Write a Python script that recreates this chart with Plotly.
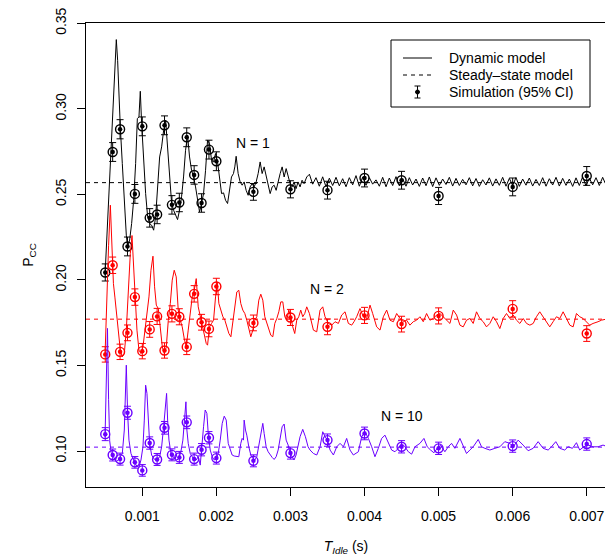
import plotly.graph_objects as go

# ---------------- data (time in ms for the dynamic model, seconds for simulation) ----------------
sim_t = [0.0005, 0.0006, 0.0007, 0.0008, 0.0009, 0.0010, 0.0011, 0.0012, 0.0013, 0.0014,
         0.0015, 0.0016, 0.0017, 0.0018, 0.0019, 0.0020, 0.0025, 0.0030, 0.0035, 0.0040,
         0.0045, 0.0050, 0.0060, 0.0070]

sim_n1 = [0.2044, 0.2748, 0.2881, 0.2196, 0.2503, 0.2898, 0.2363, 0.2383, 0.2904, 0.2439,
          0.2453, 0.2834, 0.2614, 0.2450, 0.2762, 0.2694, 0.2515, 0.2530, 0.2525, 0.2596,
          0.2583, 0.2491, 0.2544, 0.2608]
err_n1 = [0.0050, 0.0055, 0.0056, 0.0055, 0.0055, 0.0055, 0.0054, 0.0054, 0.0055, 0.0054,
          0.0054, 0.0055, 0.0054, 0.0054, 0.0055, 0.0055, 0.0049, 0.0050, 0.0052, 0.0052,
          0.0052, 0.0050, 0.0052, 0.0055]

sim_n2 = [0.1565, 0.2086, 0.1580, 0.1691, 0.1900, 0.1584, 0.1711, 0.1787, 0.1588, 0.1802,
          0.1785, 0.1609, 0.1919, 0.1753, 0.1714, 0.1962, 0.1749, 0.1781, 0.1726, 0.1793,
          0.1742, 0.1790, 0.1831, 0.1687]
err_n2 = [0.0045, 0.0048, 0.0045, 0.0046, 0.0048, 0.0045, 0.0046, 0.0047, 0.0045, 0.0047,
          0.0047, 0.0045, 0.0048, 0.0046, 0.0046, 0.0048, 0.0046, 0.0047, 0.0046, 0.0047,
          0.0046, 0.0047, 0.0048, 0.0046]

sim_n10 = [0.1099, 0.0977, 0.0953, 0.1224, 0.0934, 0.0887, 0.1047, 0.0951, 0.1136, 0.0978,
           0.0963, 0.1168, 0.0953, 0.1008, 0.1078, 0.0959, 0.0943, 0.0988, 0.1064, 0.1103,
           0.1025, 0.1016, 0.1029, 0.1041]
err_n10 = [0.0038, 0.0035, 0.0035, 0.0038, 0.0034, 0.0034, 0.0036, 0.0035, 0.0037, 0.0035,
           0.0035, 0.0037, 0.0035, 0.0036, 0.0036, 0.0035, 0.0035, 0.0035, 0.0036, 0.0037,
           0.0036, 0.0036, 0.0036, 0.0036]

steady = {"N = 1": 0.2569, "N = 2": 0.1771, "N = 10": 0.1023}

dyn1_t = [0.497, 0.524, 0.551, 0.578, 0.604, 0.631, 0.649, 0.667, 0.685, 0.703, 0.730, 0.757,
          0.784, 0.802, 0.829, 0.856, 0.883, 0.910, 0.933, 0.955, 0.973, 0.991, 1.018, 1.045,
          1.072, 1.099, 1.126, 1.153, 1.180, 1.207, 1.234, 1.261, 1.288, 1.315, 1.342, 1.369,
          1.396, 1.422, 1.449, 1.476, 1.503, 1.530, 1.557, 1.584, 1.611, 1.638, 1.665, 1.692,
          1.719, 1.746, 1.773, 1.800, 1.827, 1.854, 1.881, 1.908, 1.935, 1.962, 1.989, 2.016,
          2.043, 2.070, 2.097, 2.124, 2.151, 2.178, 2.204, 2.231, 2.249, 2.267, 2.294, 2.321,
          2.348, 2.375, 2.402, 2.429, 2.456, 2.483, 2.510, 2.537, 2.564, 2.591, 2.618, 2.645,
          2.672, 2.699, 2.726, 2.753, 2.780, 2.807, 2.834, 2.861, 2.888, 2.915, 2.942, 2.969,
          2.996, 3.022, 3.049, 3.076, 3.103, 3.130, 3.157, 3.184, 3.220, 3.256,
          3.300, 3.345, 3.390, 3.435, 3.480, 3.525, 3.570, 3.615, 3.660, 3.705, 3.750, 3.795,
          3.840, 3.885, 3.930, 3.975, 4.020, 4.065, 4.110, 4.155, 4.200, 4.245, 4.290, 4.335,
          4.380, 4.425, 4.470, 4.515, 4.560, 4.605, 4.650, 4.695, 4.740, 4.785, 4.830, 4.875,
          4.920, 4.965, 5.010, 5.055, 5.100, 5.145, 5.190, 5.235, 5.280, 5.325, 5.370, 5.415,
          5.460, 5.505, 5.550, 5.595, 5.640, 5.685, 5.730, 5.775, 5.820, 5.865, 5.910, 5.955,
          6.000, 6.045, 6.090, 6.135, 6.180, 6.225, 6.270, 6.315, 6.360, 6.405, 6.450, 6.495,
          6.540, 6.585, 6.630, 6.675, 6.720, 6.765, 6.810, 6.855, 6.900, 6.945, 6.990, 7.035,
          7.080, 7.125, 7.170, 7.215, 7.250]
dyn1_v = [0.2028, 0.2271, 0.2544, 0.2778, 0.3031, 0.3284, 0.3405, 0.3284, 0.3070, 0.2894, 0.2680, 0.2447,
          0.2262, 0.2194, 0.2233, 0.2330, 0.2466, 0.2680, 0.2943, 0.2953, 0.3103, 0.2914, 0.2700, 0.2505,
          0.2369, 0.2330, 0.2320, 0.2291, 0.2369, 0.2524, 0.2719, 0.2778, 0.2875, 0.2933, 0.2778, 0.2583,
          0.2447, 0.2408, 0.2378, 0.2353, 0.2408, 0.2486, 0.2602, 0.2758, 0.2846, 0.2719, 0.2641, 0.2602,
          0.2544, 0.2466, 0.2398, 0.2447, 0.2505, 0.2641, 0.2817, 0.2797, 0.2700, 0.2690, 0.2739, 0.2690,
          0.2602, 0.2505, 0.2509, 0.2466, 0.2447, 0.2544, 0.2602, 0.2622, 0.2661, 0.2723, 0.2622, 0.2573,
          0.2554, 0.2573, 0.2524, 0.2495, 0.2544, 0.2563, 0.2544, 0.2573, 0.2622, 0.2690, 0.2622, 0.2661,
          0.2602, 0.2544, 0.2505, 0.2544, 0.2554, 0.2524, 0.2583, 0.2622, 0.2661, 0.2602, 0.2651, 0.2602,
          0.2563, 0.2544, 0.2573, 0.2534, 0.2573, 0.2544, 0.2583, 0.2563, 0.2602, 0.2618,
          0.2560, 0.2598, 0.2548, 0.2603, 0.2545, 0.2595, 0.2552, 0.2600, 0.2550, 0.2592, 0.2545, 0.2598,
          0.2556, 0.2610, 0.2548, 0.2602, 0.2553, 0.2598, 0.2560, 0.2585, 0.2548, 0.2600, 0.2545, 0.2596,
          0.2552, 0.2604, 0.2550, 0.2592, 0.2548, 0.2598, 0.2555, 0.2590, 0.2547, 0.2596, 0.2551, 0.2602,
          0.2546, 0.2597, 0.2553, 0.2590, 0.2558, 0.2600, 0.2549, 0.2594, 0.2552, 0.2588, 0.2556, 0.2598,
          0.2550, 0.2593, 0.2547, 0.2586, 0.2555, 0.2597, 0.2549, 0.2591, 0.2553, 0.2600, 0.2548, 0.2594,
          0.2552, 0.2599, 0.2547, 0.2590, 0.2554, 0.2596, 0.2549, 0.2588, 0.2552, 0.2598, 0.2548, 0.2592,
          0.2555, 0.2600, 0.2549, 0.2594, 0.2553, 0.2590, 0.2547, 0.2597, 0.2552, 0.2603, 0.2550, 0.2595,
          0.2556, 0.2598, 0.2552, 0.2600, 0.2565]

dyn2_t = [0.497, 0.520, 0.545, 0.569, 0.590, 0.610, 0.630, 0.655, 0.680, 0.703, 0.730, 0.757,
          0.784, 0.811, 0.838, 0.861, 0.883, 0.906, 0.928, 0.955, 0.982, 1.009, 1.036, 1.063,
          1.090, 1.117, 1.144, 1.166, 1.189, 1.216, 1.243, 1.270, 1.297, 1.324, 1.351, 1.378,
          1.404, 1.431, 1.458, 1.485, 1.512, 1.539, 1.566, 1.593, 1.620, 1.647, 1.674, 1.701,
          1.728, 1.755, 1.782, 1.809, 1.836, 1.863, 1.881, 1.908, 1.935, 1.962, 1.989, 2.011,
          2.034, 2.061, 2.088, 2.115, 2.142, 2.169, 2.196, 2.222, 2.249, 2.276, 2.303, 2.330,
          2.357, 2.384, 2.411, 2.438, 2.465, 2.492, 2.519, 2.546, 2.573, 2.600, 2.627, 2.654,
          2.681, 2.708, 2.735, 2.762, 2.789, 2.816, 2.843, 2.870, 2.897, 2.924, 2.951, 2.978,
          3.004, 3.031, 3.058, 3.085, 3.112, 3.139, 3.166, 3.193, 3.220, 3.256,
          3.310, 3.355, 3.400, 3.436, 3.467, 3.512, 3.557, 3.602, 3.647, 3.692, 3.737, 3.782,
          3.827, 3.858, 3.894, 3.939, 3.984, 4.029, 4.074, 4.110, 4.164, 4.209, 4.254, 4.299,
          4.344, 4.389, 4.434, 4.479, 4.524, 4.568, 4.613, 4.658, 4.703, 4.748, 4.793, 4.838,
          4.883, 4.928, 4.973, 5.018, 5.063, 5.108, 5.153, 5.198, 5.243, 5.288, 5.332, 5.377,
          5.422, 5.467, 5.512, 5.557, 5.602, 5.647, 5.692, 5.737, 5.782, 5.827, 5.872, 5.917,
          5.962, 6.007, 6.052, 6.097, 6.142, 6.187, 6.232, 6.277, 6.321, 6.366, 6.411, 6.456,
          6.501, 6.546, 6.591, 6.636, 6.681, 6.726, 6.771, 6.816, 6.861, 6.906, 6.951, 7.040,
          7.085, 7.153, 7.198, 7.250]
dyn2_v = [0.1560, 0.1900, 0.2200, 0.2437, 0.2150, 0.1980, 0.1900, 0.1780, 0.1660, 0.1590, 0.1551, 0.1570,
          0.1707, 0.1960, 0.2154, 0.2260, 0.2057, 0.1862, 0.1707, 0.1590, 0.1570, 0.1609, 0.1707, 0.1804,
          0.1901, 0.2057, 0.2139, 0.1960, 0.1853, 0.1833, 0.1707, 0.1609, 0.1570, 0.1609, 0.1765, 0.1862,
          0.1999, 0.2057, 0.2018, 0.1824, 0.1765, 0.1726, 0.1658, 0.1609, 0.1707, 0.1804, 0.1901, 0.1940,
          0.2008, 0.1843, 0.1785, 0.1746, 0.1687, 0.1629, 0.1619, 0.1726, 0.1746, 0.1765, 0.1901, 0.1989,
          0.1862, 0.1824, 0.1785, 0.1765, 0.1726, 0.1687, 0.1668, 0.1765, 0.1862, 0.1930, 0.1940, 0.1862,
          0.1824, 0.1804, 0.1765, 0.1707, 0.1668, 0.1707, 0.1765, 0.1785, 0.1882, 0.1917, 0.1882, 0.1785,
          0.1746, 0.1707, 0.1677, 0.1668, 0.1746, 0.1775, 0.1814, 0.1872, 0.1872, 0.1785, 0.1765, 0.1824,
          0.1785, 0.1726, 0.1687, 0.1765, 0.1785, 0.1824, 0.1785, 0.1804, 0.1843, 0.1804,
          0.1707, 0.1697, 0.1824, 0.1843, 0.1785, 0.1746, 0.1736, 0.1756, 0.1746, 0.1795, 0.1814, 0.1746,
          0.1736, 0.1756, 0.1785, 0.1833, 0.1785, 0.1775, 0.1853, 0.1804, 0.1726, 0.1707, 0.1785, 0.1824,
          0.1765, 0.1756, 0.1804, 0.1775, 0.1756, 0.1765, 0.1736, 0.1756, 0.1765, 0.1785, 0.1756, 0.1804,
          0.1765, 0.1775, 0.1795, 0.1804, 0.1785, 0.1765, 0.1746, 0.1824, 0.1795, 0.1736, 0.1726, 0.1765,
          0.1775, 0.1746, 0.1814, 0.1775, 0.1756, 0.1726, 0.1746, 0.1785, 0.1756, 0.1716, 0.1775, 0.1804,
          0.1775, 0.1795, 0.1765, 0.1746, 0.1775, 0.1746, 0.1736, 0.1746, 0.1785, 0.1814, 0.1785, 0.1756,
          0.1726, 0.1756, 0.1785, 0.1775, 0.1814, 0.1775, 0.1736, 0.1726, 0.1804, 0.1785, 0.1775, 0.1736,
          0.1746, 0.1756, 0.1765, 0.1770]

dyn10_t = [0.497, 0.515, 0.530, 0.545, 0.560, 0.580, 0.600, 0.622, 0.649, 0.676, 0.703, 0.730,
           0.757, 0.775, 0.784, 0.802, 0.820, 0.847, 0.874, 0.901, 0.928, 0.955, 0.982, 1.009,
           1.027, 1.045, 1.063, 1.081, 1.099, 1.126, 1.153, 1.180, 1.207, 1.234, 1.261, 1.288,
           1.315, 1.328, 1.342, 1.360, 1.387, 1.413, 1.440, 1.467, 1.494, 1.521, 1.548, 1.571,
           1.589, 1.602, 1.620, 1.647, 1.674, 1.701, 1.728, 1.755, 1.782, 1.800, 1.827, 1.849,
           1.872, 1.890, 1.917, 1.944, 1.971, 1.998, 2.025, 2.052, 2.079, 2.106, 2.133, 2.160,
           2.187, 2.213, 2.240, 2.276, 2.303, 2.330, 2.348, 2.366, 2.375, 2.393, 2.411, 2.438,
           2.465, 2.492, 2.519, 2.546, 2.573, 2.600, 2.627, 2.645, 2.672, 2.699, 2.726, 2.753,
           2.780, 2.807, 2.834, 2.861, 2.888, 2.915, 2.942, 2.969, 2.996, 3.022, 3.049, 3.076,
           3.103, 3.130, 3.166, 3.202, 3.238,
           3.265, 3.310, 3.355, 3.400, 3.436, 3.467, 3.503, 3.535, 3.580, 3.625, 3.670, 3.715,
           3.759, 3.804, 3.849, 3.917, 3.962, 4.007, 4.052, 4.097, 4.141, 4.186, 4.231, 4.276,
           4.321, 4.366, 4.411, 4.456, 4.501, 4.546, 4.591, 4.636, 4.681, 4.748, 4.802, 4.847,
           4.892, 4.937, 4.982, 5.027, 5.085, 5.130, 5.175, 5.220, 5.288, 5.332, 5.377, 5.422,
           5.467, 5.535, 5.580, 5.625, 5.692, 5.760, 5.827, 5.894, 5.962, 6.007, 6.074, 6.141,
           6.209, 6.276, 6.344, 6.411, 6.479, 6.524, 6.582, 6.636, 6.703, 6.748, 6.807, 6.861,
           6.905, 6.960, 7.018, 7.085, 7.153, 7.220, 7.250]
dyn10_v = [0.1080, 0.1400, 0.1717, 0.1300, 0.1060, 0.0990, 0.0975, 0.0957, 0.0938, 0.0948, 0.0967, 0.0986,
           0.1123, 0.1415, 0.1502, 0.1220, 0.1064, 0.0986, 0.0957, 0.0928, 0.0912, 0.0905, 0.0948, 0.1025,
           0.1181, 0.1385, 0.1337, 0.1181, 0.1045, 0.0977, 0.0957, 0.0948, 0.0951, 0.0967, 0.1025, 0.1142,
           0.1259, 0.1337, 0.1181, 0.1064, 0.0986, 0.0967, 0.0957, 0.0948, 0.0957, 0.0996, 0.1064, 0.1181,
           0.1288, 0.1123, 0.1045, 0.0986, 0.0967, 0.0948, 0.0948, 0.0967, 0.0918, 0.1025, 0.1142, 0.1240,
           0.1220, 0.1103, 0.1006, 0.0967, 0.0948, 0.0957, 0.0986, 0.1064, 0.1162, 0.1204, 0.1181, 0.1045,
           0.1006, 0.0977, 0.0971, 0.0971, 0.0967, 0.1045, 0.1074, 0.1064, 0.1181, 0.1123, 0.1093, 0.1025,
           0.0977, 0.0957, 0.0948, 0.0967, 0.1025, 0.1103, 0.1162, 0.1103, 0.1025, 0.0996, 0.0977, 0.0963,
           0.0951, 0.0967, 0.1006, 0.1084, 0.1142, 0.1158, 0.1064, 0.1035, 0.0986, 0.0967, 0.0948, 0.0977,
           0.1025, 0.1084, 0.1127, 0.1084, 0.1025,
           0.1006, 0.0986, 0.0977, 0.1025, 0.1113, 0.1084, 0.1064, 0.1006, 0.0977, 0.1025, 0.1045, 0.1025,
           0.1074, 0.1006, 0.0977, 0.0996, 0.1084, 0.1113, 0.1074, 0.1025, 0.0967, 0.1016, 0.1074, 0.1093,
           0.1045, 0.1006, 0.0996, 0.1016, 0.1045, 0.1025, 0.0996, 0.0982, 0.1025, 0.1045, 0.1074, 0.1025,
           0.1006, 0.0990, 0.1016, 0.1035, 0.0996, 0.1025, 0.1045, 0.1016, 0.1074, 0.1035, 0.0986, 0.1006,
           0.1025, 0.1068, 0.1025, 0.1016, 0.1006, 0.1016, 0.1025, 0.1055, 0.1045, 0.1025, 0.1064, 0.1035,
           0.1002, 0.1016, 0.1055, 0.1016, 0.1006, 0.1025, 0.1055, 0.1016, 0.1006, 0.1025, 0.1016, 0.1049,
           0.1006, 0.1025, 0.1035, 0.1025, 0.1025, 0.1035, 0.1030]

x_ticks = [0.001, 0.002, 0.003, 0.004, 0.005, 0.006, 0.007]
x_tick_labels = ["0.001", "0.002", "0.003", "0.004", "0.005", "0.006", "0.007"]
y_ticks = [0.10, 0.15, 0.20, 0.25, 0.30, 0.35]
y_tick_labels = ["0.10", "0.15", "0.20", "0.25", "0.30", "0.35"]

legend_labels = ["Dynamic model", "Steady\u2013state model", "Simulation (95% CI)"]

# ---------------- figure ----------------
FONT = "Liberation Sans, Arial, Helvetica, sans-serif"
BLACK = "#000000"
RED = "#FF0000"
BLUE = "#6A00FF"
X_RANGE = [0.00024, 0.00726]
Y_RANGE = [0.079, 0.3502]

series = [
    ("N = 1", dyn1_t, dyn1_v, sim_n1, err_n1, BLACK, 0.0025, 0.280),
    ("N = 2", dyn2_t, dyn2_v, sim_n2, err_n2, RED, 0.0035, 0.1945),
    ("N = 10", dyn10_t, dyn10_v, sim_n10, err_n10, BLUE, 0.0045, 0.1205),
]

fig = go.Figure()
annotations = []
for name, dt, dv, sv, se, col, lx, ly in series:
    # steady-state model
    fig.add_trace(go.Scatter(x=X_RANGE, y=[steady[name]] * 2, mode="lines",
                             line=dict(color=col, width=1, dash="4px,4px"),
                             showlegend=False, hoverinfo="skip"))
    # dynamic model
    fig.add_trace(go.Scatter(x=[t * 1e-3 for t in dt], y=dv, mode="lines",
                             line=dict(color=col, width=1), showlegend=False))
    # simulation with 95% CI
    fig.add_trace(go.Scatter(x=sim_t, y=sv, mode="markers",
                             marker=dict(symbol="circle-open", size=9, color=col,
                                         line=dict(color=col, width=1.4)),
                             error_y=dict(type="data", array=se, visible=True,
                                          color=col, thickness=1, width=3.5),
                             showlegend=False))
    fig.add_trace(go.Scatter(x=sim_t, y=sv, mode="markers",
                             marker=dict(symbol="circle", size=4.5, color=col),
                             showlegend=False, hoverinfo="skip"))
    annotations.append(dict(x=lx, y=ly, xref="x", yref="y", text=name, showarrow=False,
                            font=dict(family=FONT, size=14, color="#000000")))

# ---- page geometry: the HTML body adds an 8px margin around the figure ----
BODY = 8
FIG_W, FIG_H = 613 - BODY, 559 - BODY
ML, MR, MT, MB = 86 - BODY, 7, 23 - BODY, 72

# legend drawn in paper coordinates (converted from page pixels)
L, R, T, B = 86.0, 606.0, 23.0, 487.0
def px(xp):
    return (xp - L) / (R - L)
def py(yp):
    return (B - yp) / (B - T)

shapes = [
    dict(type="rect", xref="paper", yref="paper", x0=px(391), x1=px(590), y0=py(107), y1=py(40),
         line=dict(color="#000000", width=1), fillcolor="rgba(0,0,0,0)"),
    dict(type="line", xref="paper", yref="paper", x0=px(403), x1=px(432), y0=py(58), y1=py(58),
         line=dict(color="#000000", width=1)),
    dict(type="line", xref="paper", yref="paper", x0=px(403), x1=px(432), y0=py(75), y1=py(75),
         line=dict(color="#000000", width=1, dash="4px,4px")),
    dict(type="line", xref="paper", yref="paper", x0=px(417.5), x1=px(417.5), y0=py(86), y1=py(98),
         line=dict(color="#000000", width=1)),
    dict(type="line", xref="paper", yref="paper", x0=px(414.5), x1=px(420.5), y0=py(86), y1=py(86),
         line=dict(color="#000000", width=1)),
    dict(type="line", xref="paper", yref="paper", x0=px(414.5), x1=px(420.5), y0=py(98), y1=py(98),
         line=dict(color="#000000", width=1)),
    dict(type="circle", xref="paper", yref="paper", x0=px(415.5), x1=px(419.5), y0=py(94), y1=py(90),
         line=dict(color="#000000", width=1), fillcolor="#000000"),
]
for lab, yy in zip(legend_labels, [58, 75, 92]):
    annotations.append(dict(x=px(447), y=py(yy), xref="paper", yref="paper", text=lab,
                            showarrow=False, xanchor="left", yanchor="middle",
                            font=dict(family=FONT, size=14, color="#000000")))

fig.update_layout(
    width=FIG_W, height=FIG_H,
    margin=dict(l=ML, r=MR, t=MT, b=MB),
    paper_bgcolor="white", plot_bgcolor="white",
    font=dict(family=FONT, size=14, color="#000000"),
    showlegend=False,
    shapes=shapes,
    annotations=annotations,
    xaxis=dict(range=X_RANGE, tickvals=x_ticks, ticktext=x_tick_labels,
               ticks="outside", ticklen=8, tickcolor="#000000", tickwidth=1,
               showline=True, mirror=True, linecolor="#000000", linewidth=1,
               showgrid=False, zeroline=False, ticklabelstandoff=8, automargin=False,
               ticklabeloverflow="allow",
               title=dict(text="<i>T</i><sub><i>Idle</i></sub> (s)", standoff=18,
                          font=dict(family=FONT, size=14))),
    yaxis=dict(range=Y_RANGE, tickvals=y_ticks, ticktext=y_tick_labels,
               tickangle=-90, automargin=False, ticklabeloverflow="allow",
               ticks="outside", ticklen=8, tickcolor="#000000", tickwidth=1,
               showline=True, mirror=True, linecolor="#000000", linewidth=1,
               showgrid=False, zeroline=False, ticklabelstandoff=5,
               title=dict(text="P<sub>CC</sub>", standoff=16,
                          font=dict(family=FONT, size=14))),
)

fig.write_html("out.html")
